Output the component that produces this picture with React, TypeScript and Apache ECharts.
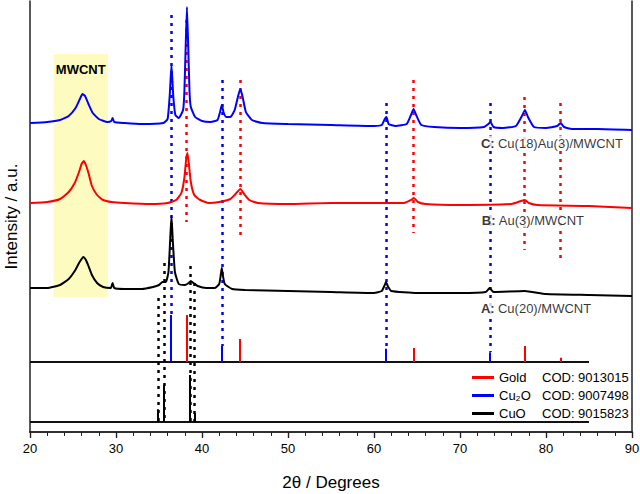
import React, { useEffect, useRef } from "react";
import * as echarts from "echarts";

// 2θ range of the x axis
const X_MIN = 20;
const X_MAX = 90;
const X_STEP = 10;
const Y_MAX = 431;

// Measured patterns: [2θ, intensity (a.u., stacked offsets)]
const curveC: [number, number][] = [
  [20, 309], [22, 310], [23.5, 312], [24.5, 316], [25.3, 324], [25.8, 333], [26.1, 338], [26.4, 336],
  [26.8, 328], [27.3, 319], [28, 313], [29, 310], [29.45, 311], [29.6, 314], [29.8, 310], [31, 309],
  [33, 308], [35.5, 309], [36.0, 313], [36.25, 337], [36.45, 367], [36.65, 337], [36.9, 317], [37.3, 314],
  [37.8, 322], [37.95, 340], [38.1, 385], [38.25, 425], [38.4, 385], [38.55, 340], [38.7, 325], [39.2, 315],
  [40, 311], [41, 310], [41.8, 312], [42.1, 320], [42.3, 327], [42.5, 320], [42.8, 315], [43.3, 315],
  [43.8, 322], [44.2, 336], [44.45, 343], [44.7, 336], [45.1, 320], [45.8, 312], [47, 309], [50, 308],
  [55, 307], [60, 306], [60.9, 307], [61.25, 313], [61.45, 315], [61.7, 308], [62.5, 306], [63.8, 308],
  [64.3, 317], [64.6, 323], [64.9, 317], [65.5, 307], [67, 305], [70, 304], [72.8, 305], [73.3, 308],
  [73.55, 310], [73.9, 305], [75, 304], [76.5, 306], [77.2, 316], [77.55, 322], [77.9, 315], [78.6, 305],
  [80, 304], [81.3, 306], [81.7, 309], [82.1, 305], [83, 303], [86, 303], [90, 302],
];
const curveB: [number, number][] = [
  [20, 229], [22, 230], [23.5, 233], [24.5, 240], [25.2, 249], [25.7, 260], [26.0, 268], [26.25, 271],
  [26.5, 267], [26.8, 259], [27.2, 246], [27.8, 237], [28.5, 232], [29.5, 230], [31, 229], [34, 228],
  [36, 229], [37, 232], [37.6, 239], [37.95, 254], [38.15, 272], [38.3, 279], [38.45, 270], [38.7, 250],
  [39.1, 237], [39.8, 232], [40.8, 229], [42, 230], [43.3, 233], [43.9, 238], [44.45, 243], [44.9, 238],
  [45.5, 232], [46.5, 229], [50, 228], [55, 229], [60, 229], [63.5, 229], [64.3, 232], [64.65, 234],
  [65.1, 230], [66, 228], [70, 227], [76, 228], [77.1, 231], [77.55, 232], [78, 229], [79, 227],
  [85, 226], [90, 224],
];
const curveA: [number, number][] = [
  [20, 144], [22, 144], [23.5, 147], [24.5, 153], [25.2, 161], [25.7, 169], [26.0, 173], [26.2, 175],
  [26.5, 172], [26.8, 166], [27.2, 157], [27.8, 149], [28.5, 145], [29.4, 144], [29.6, 149], [29.8, 144],
  [31, 143], [33, 143], [34.3, 145], [35.0, 147], [35.4, 150], [35.8, 150], [36.1, 160], [36.3, 192],
  [36.45, 216], [36.6, 192], [36.85, 160], [37.3, 148], [38.0, 147], [38.45, 149], [38.7, 151], [39.0, 149],
  [39.5, 146], [40.5, 144], [41.5, 144], [42.0, 148], [42.2, 158], [42.3, 164], [42.4, 158], [42.65, 148],
  [43.5, 143], [45, 142], [50, 141], [55, 140], [60, 139], [60.9, 141], [61.2, 146], [61.4, 150],
  [61.6, 146], [62, 141], [65, 139], [70, 139], [73.0, 140], [73.45, 144], [73.9, 140], [77.5, 141],
  [80, 138], [85, 137], [90, 136],
];

// Reference patterns: [2θ, relative intensity %]
const goldRef: [number, number][] = [[38.2, 100], [44.4, 49], [64.6, 30], [77.5, 34], [81.7, 9]];
const cu2oRef: [number, number][] = [[36.4, 100], [42.3, 34], [61.4, 28], [73.5, 21]];
const cuoRef: [number, number][] = [[34.87, 27], [35.57, 79], [38.63, 100], [39.1, 19]];
const REF_BASE_1 = 70; // Gold + Cu2O reference baseline
const REF_BASE_2 = 10; // CuO reference baseline
const REF_SCALE = 0.47;
const REF_END = 85;

// Dotted guide lines: [2θ, top, bottom]
const blueGuides: [number, number, number][] = [[36.4, 417, 117], [42.3, 352, 86], [61.4, 329, 83], [73.5, 329, 80]];
const redGuides: [number, number, number][] = [[38.2, 412, 210], [44.4, 352, 197], [64.6, 352, 199], [77.5, 335, 182], [81.7, 329, 174]];
const blackGuides: [number, number, number][] = [[34.87, 134, 10], [35.57, 169, 10], [38.63, 166, 10], [39.1, 149, 10]];

// MWCNT highlight: [x0, x1, y0, y1]
const mwcntBand = [22.75, 29.05, 135, 378];

// Sample labels: [2θ, y, letter, name]
const sampleLabels: [number, number, string, string][] = [
  [72.2, 289, "C:", "Cu(18)Au(3)/MWCNT"],
  [72.3, 212, "B:", "Au(3)/MWCNT"],
  [72.2, 124, "A:", "Cu(20)/MWCNT"],
];

const legendNames = ["Gold", "Cu\u2082O", "CuO"];
const legendCods = ["COD: 9013015", "COD: 9007498", "COD: 9015823"];

const BLUE = "#0000ff";
const RED = "#ff0000";
const BLACK = "#000000";
const FONT = "Liberation Sans, Arial, sans-serif";

function stickLines(ref: [number, number][], base: number) {
  return ref.map(([x, h]) => [{ coord: [x, base] }, { coord: [x, base + h * REF_SCALE] }]);
}
function guideLines(g: [number, number, number][]) {
  return g.map(([x, t, b]) => [{ coord: [x, t] }, { coord: [x, b] }]);
}

export default function App() {
  const ref = useRef<HTMLDivElement>(null);
  useEffect(() => {
    if (!ref.current) return;
    const chart = echarts.init(ref.current, undefined, { renderer: "svg" });
    const dotted = (color: string) => ({ color, width: 2.5, type: [3, 5] as any, cap: "butt" as any });
    const mk = (data: any[], lineStyle: any, z = 2) => ({
      symbol: ["none", "none"],
      silent: true,
      animation: false,
      z,
      label: { show: false },
      lineStyle,
      emphasis: { disabled: true },
      data,
    });
    const curve = (name: string, data: [number, number][], color: string) => ({
      name,
      type: "line",
      data,
      showSymbol: false,
      symbol: "none",
      silent: true,
      smooth: 0.15,
      z: 6,
      lineStyle: { color, width: 2 },
      itemStyle: { color },
    });
    chart.setOption({
      animation: false,
      grid: { left: 30, right: 8, top: 1, bottom: 62, outerBoundsMode: "none", containLabel: false },
      xAxis: [
        {
          type: "value",
          min: X_MIN,
          max: X_MAX,
          interval: X_STEP,
          position: "bottom",
          axisLine: { show: true, lineStyle: { color: "#222", width: 1.5 } },
          axisTick: { show: true, length: 6, lineStyle: { color: "#222", width: 1.2 } },
          minorTick: { show: true, splitNumber: 5, length: 4, lineStyle: { color: "#222", width: 1 } },
          splitLine: { show: false },
          axisLabel: { color: "#000", fontSize: 13, fontFamily: FONT, margin: 10 },
          name: "2\u03b8 / Degrees",
          nameLocation: "middle",
          nameGap: 42,
          nameTextStyle: { color: "#000", fontSize: 17, fontFamily: FONT },
        },
        {
          type: "value",
          min: X_MIN,
          max: X_MAX,
          interval: X_STEP,
          position: "top",
          axisLine: { show: true, lineStyle: { color: "#222", width: 1.5 } },
          axisTick: { show: true, inside: true, length: 6, lineStyle: { color: "#222", width: 1.2 } },
          minorTick: { show: true, splitNumber: 5, length: 4, lineStyle: { color: "#222", width: 1 } },
          splitLine: { show: false },
          axisLabel: { show: false },
        },
      ],
      yAxis: [
        {
          type: "value",
          min: 0,
          max: Y_MAX,
          position: "left",
          axisLine: { show: true, lineStyle: { color: "#222", width: 1.5 } },
          axisTick: { show: false },
          axisLabel: { show: false },
          splitLine: { show: false },
          name: "Intensity / a.u.",
          nameLocation: "middle",
          nameGap: 10,
          nameRotate: 90,
          nameTextStyle: { color: "#000", fontSize: 17, fontFamily: FONT },
        },
        {
          type: "value",
          min: 0,
          max: Y_MAX,
          position: "right",
          axisLine: { show: true, lineStyle: { color: "#222", width: 1.5 } },
          axisTick: { show: false },
          axisLabel: { show: false },
          splitLine: { show: false },
        },
      ],
      legend: {
        data: legendNames,
        orient: "vertical",
        left: 467,
        top: 365,
        icon: "rect",
        itemWidth: 22,
        itemHeight: 3,
        itemGap: 3,
        itemStyle: { borderWidth: 0 },
        selectedMode: false,
        formatter: (name: string) => `{n|${name}}{c|${legendCods[legendNames.indexOf(name)]}}`,
        textStyle: {
          color: "#000",
          fontSize: 13,
          fontFamily: FONT,
          lineHeight: 15,
          rich: {
            n: { width: 43, fontSize: 13, fontFamily: FONT, color: "#000" },
            c: { fontSize: 13, fontFamily: FONT, color: "#000" },
          },
        },
      },
      series: [
        {
          type: "line",
          name: "band",
          data: [],
          silent: true,
          z: 0,
          markArea: {
            silent: true,
            z: 0,
            itemStyle: { color: "#fdfbbf" },
            label: {
              show: true,
              position: "insideTop",
              distance: 9,
              color: "#000",
              fontWeight: "bold",
              fontSize: 13,
              fontFamily: FONT,
            },
            data: [[{ name: "MWCNT", coord: [mwcntBand[0], mwcntBand[3]] }, { coord: [mwcntBand[1], mwcntBand[2]] }]],
          },
        },
        {
          type: "line",
          name: "baselines",
          data: [],
          z: 2,
          markLine: mk(
            [
              [{ coord: [X_MIN, REF_BASE_1] }, { coord: [REF_END, REF_BASE_1] }],
              [{ coord: [X_MIN, REF_BASE_2] }, { coord: [REF_END, REF_BASE_2] }],
            ],
            { color: "#111", width: 2, type: "solid" },
            2
          ),
        },
        { type: "line", name: "guidesBlue", data: [], z: 3, markLine: mk(guideLines(blueGuides), dotted(BLUE), 3) },
        { type: "line", name: "guidesRed", data: [], z: 3, markLine: mk(guideLines(redGuides), dotted(RED), 3) },
        { type: "line", name: "guidesBlack", data: [], z: 3, markLine: mk(guideLines(blackGuides), dotted(BLACK), 3) },
        {
          type: "line", name: "Gold", data: [], z: 4, color: RED,
          markLine: mk(stickLines(goldRef, REF_BASE_1), { color: RED, width: 2, type: "solid" }, 4),
        },
        {
          type: "line", name: "Cu\u2082O", data: [], z: 4, color: BLUE,
          markLine: mk(stickLines(cu2oRef, REF_BASE_1), { color: BLUE, width: 2, type: "solid" }, 4),
        },
        {
          type: "line", name: "CuO", data: [], z: 4, color: BLACK,
          markLine: mk(stickLines(cuoRef, REF_BASE_2), { color: BLACK, width: 2, type: "solid" }, 4),
        },
        curve("C", curveC, BLUE),
        curve("B", curveB, RED),
        curve("A", curveA, BLACK),
        {
          type: "scatter",
          name: "labels",
          symbolSize: 0,
          silent: true,
          z: 10,
          data: sampleLabels.map(([x, y, l, n]) => ({ value: [x, y], l, n })),
          label: {
            show: true,
            position: "right",
            distance: 0,
            backgroundColor: "#fff",
            padding: [1, 2, 1, 2],
            formatter: (p: any) => `{b|${p.data.l}} {r|${p.data.n}}`,
            rich: {
              b: { fontWeight: "bold", fontSize: 13, fontFamily: FONT, color: "#000" },
              r: { fontSize: 13, fontFamily: FONT, color: "#000" },
            },
          },
        },
      ],
    });
    return () => chart.dispose();
  }, []);
  return <div ref={ref} style={{ position: "fixed", left: 0, top: 0, width: 640, height: 494, background: "#fff" }} />;
}
